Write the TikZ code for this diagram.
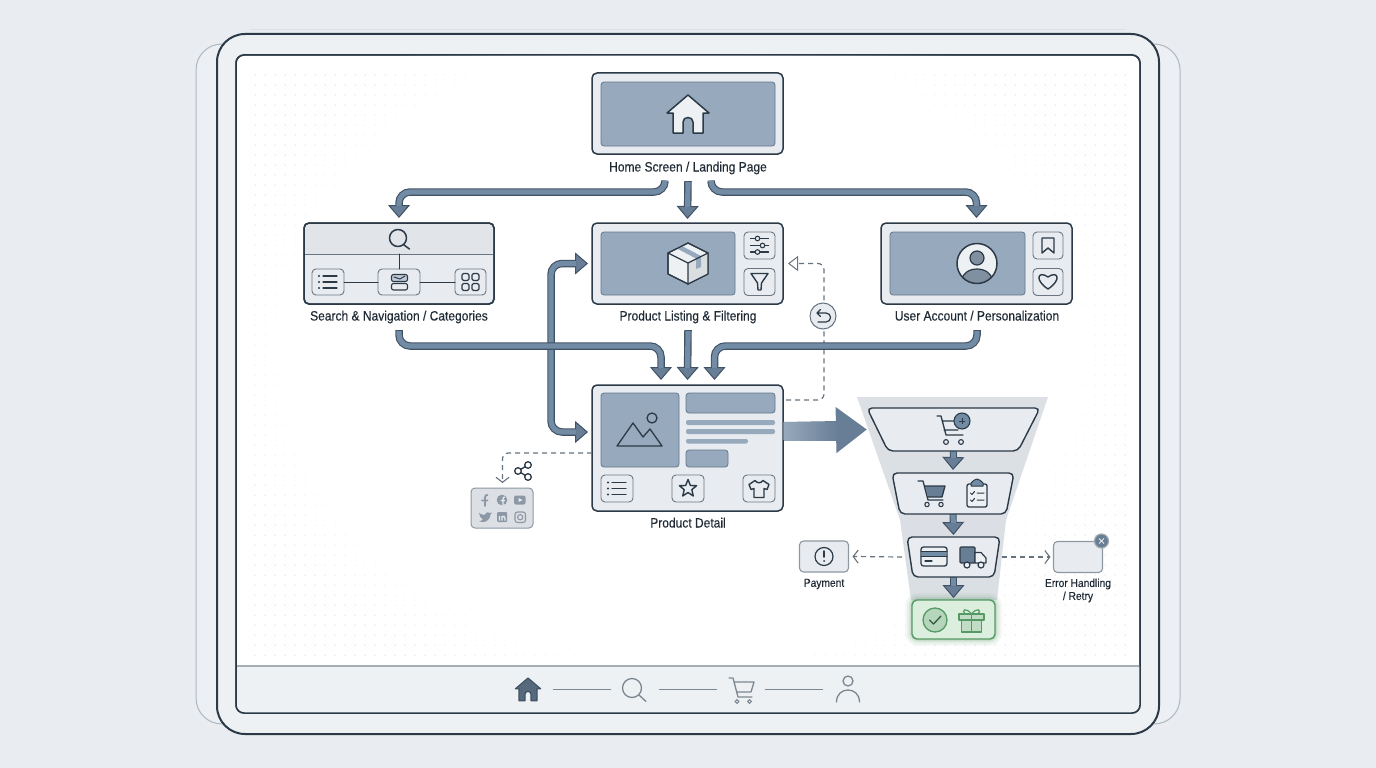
\documentclass[tikz,border=0pt]{standalone}
\usepackage{fontspec}
\setmainfont{Liberation Sans}[FakeStretch=0.89,FakeBold=0.25]
\usetikzlibrary{arrows.meta,shapes.geometric,fadings}
\definecolor{pagec}{HTML}{E9EDF1}
\definecolor{framec}{HTML}{EEF1F4}
\definecolor{edgec}{HTML}{2C3947}
\definecolor{panelc}{HTML}{E8ECF0}
\definecolor{innerc}{HTML}{97A9BC}
\definecolor{inneredge}{HTML}{64778B}
\definecolor{flowc}{HTML}{728CA6}
\definecolor{flowedge}{HTML}{415265}
\definecolor{headc}{HTML}{687E96}
\definecolor{btnedge}{HTML}{6B7682}
\definecolor{dotc}{HTML}{DEE2E6}
\definecolor{textc}{HTML}{1F2A35}
\definecolor{softc}{HTML}{8E98A2}
\definecolor{dashc}{HTML}{66727F}
\definecolor{funnelc}{HTML}{D6DBE1}
\definecolor{greenf}{HTML}{DCEEDD}
\definecolor{greene}{HTML}{559A64}
\definecolor{navc}{HTML}{7C8791}
\definecolor{socialc}{HTML}{8C98A5}
\tikzset{
  x=1pt,y=-1pt,
  fattip/.tip={Triangle[length=13pt,width=22pt,line width=1pt,fill=headc,color=flowedge]},
  flow/.style={draw=flowedge,line width=7.5pt,rounded corners=11pt,-fattip,
    postaction={draw=flowc,line width=5.2pt,-,shorten >=12pt,shorten <=.8pt}},
  flowboth/.style={draw=flowedge,line width=7.5pt,rounded corners=11pt,fattip-fattip,
    postaction={draw=flowc,line width=5.2pt,-,shorten >=12pt,shorten <=12pt}},
  panel/.style={draw=edgec,line width=1.5pt,fill=panelc,rounded corners=5pt,inner sep=0pt,outer sep=0pt},
  inset/.style={draw=inneredge,line width=.8pt,fill=innerc,rounded corners=3pt,inner sep=0pt,outer sep=0pt},
  btn/.style={draw=btnedge,line width=.9pt,fill=panelc,rounded corners=4pt,inner sep=0pt,outer sep=0pt},
  lab/.style={text=textc,font=\fontsize{13.5}{15}\selectfont,inner sep=2pt,text height=9.5pt,text depth=2.5pt},
  smalllab/.style={text=textc,font=\fontsize{11.5}{13}\selectfont,inner sep=0pt,align=center},
  ink/.style={draw=edgec,line width=1.3pt,line join=round,line cap=round},
  stepshape/.style={draw=edgec,line width=1.4pt,fill=panelc,rounded corners=5pt},
  stepbox/.style={inner sep=0pt,outer sep=0pt},
  dashline/.style={draw=dashc,line width=1.2pt,dash pattern=on 5pt off 4pt,rounded corners=6pt},
  openhead/.tip={Triangle[open,length=10pt,width=15pt,line width=1pt,fill=white,color=dashc]},
  barb/.tip={Straight Barb[length=5pt,width=13pt,line width=1.1pt,color=dashc]},
  houseglyph/.pic={\path[pic actions,line join=round] (0,-20) -- (21,-2) -- (15,-2) -- (15,18) -- (5,18) -- (5,7) .. controls (5,1) and (-5,1) .. (-5,7) -- (-5,18) -- (-15,18) -- (-15,-2) -- (-21,-2) -- cycle;},
  listglyph/.pic={
    \foreach \yy in {-6,0,6} {\fill[edgec] (-9,\yy) circle[radius=1.1]; \draw[ink] (-5,\yy) -- (9,\yy);}},
  gridglyph/.pic={
    \foreach \xx in {-8.5,1.5} {\foreach \yy in {-8.5,1.5} {\draw[ink,line width=1.1pt,rounded corners=1.5pt] (\xx,\yy) rectangle ++(7,7);}}},
}
\begin{document}
\begin{tikzpicture}
\useasboundingbox (0,0) rectangle (1376,768);
\fill[pagec] (0,0) rectangle (1376,768);
% frames
\draw[draw=pagec!95!black,line width=.8pt] (250,29.5) -- (1126,29.5);
\draw[draw=softc!70!white,line width=1pt,fill=framec!60!pagec,rounded corners=26pt] (196,44) rectangle (1180,724);
\node[draw=edgec,line width=2pt,fill=framec,rounded corners=28pt,minimum width=942,minimum height=700,inner sep=0pt,outer sep=0pt] (device) at (688,384) {};
\node[draw=edgec,line width=1.5pt,fill=white,rounded corners=8pt,minimum width=904,minimum height=658,inner sep=0pt,outer sep=0pt] (screen) at (688,384) {};
% dot grid
\begin{scope}
\clip (237,56) rectangle (1139,665);
\foreach \yy in {75,85,...,655} {\draw[dotc,line width=1.5pt,line cap=round,dash pattern=on 0pt off 10pt] (255,\yy) -- (1126,\yy);}
\fill[white,path fading=circle with fuzzy edge 20 percent] (680,350) ellipse[x radius=470,y radius=370];
\end{scope}
% bottom bar
\fill[framec] (236,666) -- (1140,666) [rounded corners=8pt] -- (1140,713) -- (236,713) [sharp corners] -- cycle;
\draw[draw=softc!80!white,line width=1.5pt] (236,666) -- (1140,666);
\draw[draw=edgec,line width=1.5pt,rounded corners=8pt] (screen.south west) rectangle (screen.north east);
% funnel backdrop
\shade[top color=funnelc!85!white,bottom color=funnelc!90!white] (857,397) -- (1048,397) -- (1006,520) -- (997,600) -- (911,600) -- (900,520) -- cycle;
% home
\node[panel,minimum width=191,minimum height=81] (home) at (687.5,113.5) {};
\node[inset,minimum width=174,minimum height=64] (homein) at (688,114) {};
\pic[draw=edgec,fill=framec,line width=1.5pt] at (688,115) {houseglyph};
\node[lab] (homelab) at (688,168) {Home Screen / Landing Page};
% search
\node[panel,minimum width=190,minimum height=81] (search) at (399,263.5) {};
\fill[panelc!97!black,rounded corners=5pt] (305,254) -- (305,224) -- (493,224) -- (493,254) [sharp corners] -- cycle;
\draw[draw=btnedge,line width=1pt] (304,254) -- (494,254);
\draw[draw=edgec,line width=1.5pt,rounded corners=5pt] (search.south west) rectangle (search.north east);
\draw[ink,line width=1.5pt] (398,238) circle[radius=8.5] (404,245) -- (409.5,249);
\node[btn,minimum width=32,minimum height=26] (sleft) at (328,282) {};
\node[btn,minimum width=42,minimum height=26] (smid) at (399,282) {};
\node[btn,minimum width=31,minimum height=26] (sright) at (470.5,282) {};
\draw[ink,line width=1pt] (sleft) -- (smid);
\draw[ink,line width=1pt] (smid) -- (sright);
\draw[ink,line width=1pt] (399,254) -- (smid);
\pic at (328,282) {listglyph};
\pic at (470.5,282) {gridglyph};
\draw[ink,line width=1.1pt,rounded corners=2pt,fill=innerc!60!white] (391.5,274.5) rectangle (407.5,281.5);
\draw[ink,line width=1.1pt,rounded corners=2pt] (391.5,283.5) rectangle (407.5,290);
\draw[ink,line width=1pt] (394,277) -- (400,279) -- (405,276);
\node[lab] (searchlab) at (399,317) {Search \& Navigation / Categories};
% listing
\node[panel,minimum width=191,minimum height=81] (listing) at (687.5,263.5) {};
\node[inset,minimum width=134,minimum height=63] (listin) at (668,263.5) {};
\node[btn,minimum width=31,minimum height=27] (lbtna) at (759.5,245.5) {};
\node[btn,minimum width=31,minimum height=27] (lbtnb) at (759.5,282) {};
\draw[ink,fill=framec,line width=1.2pt] (688,243) -- (708,253) -- (708,274) -- (688,284) -- (668,274) -- (668,253) -- cycle;
\fill[framec!92!black] (688,263) -- (708,253) -- (708,274) -- (688,284) -- cycle;
\fill[innerc] (676,248) -- (681,245.5) -- (701,256) -- (701,267) -- (696,269) -- (696,258.5) -- cycle;
\draw[ink,line width=1.2pt] (668,253) -- (688,263) -- (708,253) (688,263) -- (688,284);
\draw[ink,line width=1.2pt] (688,243) -- (708,253) -- (708,274) -- (688,284) -- (668,274) -- (668,253) -- cycle;
\foreach \yy/\cx in {-7/-2,0/3,6.5/-2} {\draw[ink,line width=1.1pt] (750.5,245.5+\yy) -- (768.5,245.5+\yy); \draw[ink,fill=panelc,line width=1.1pt] (759.5+\cx,245.5+\yy) circle[radius=2.3];}
\draw[ink,line width=1.4pt] (751,273.5) -- (768,273.5) -- (761.5,283) -- (761,290) -- (758,290) -- (757.5,283) -- cycle;
\node[lab] (listlab) at (688,317) {Product Listing \& Filtering};
% user
\node[panel,minimum width=191,minimum height=81] (user) at (976.5,263.5) {};
\node[inset,minimum width=135,minimum height=63] (userin) at (957.5,263.5) {};
\node[btn,minimum width=30,minimum height=27] (ubtna) at (1048,245.5) {};
\node[btn,minimum width=30,minimum height=27] (ubtnb) at (1048,282) {};
\fill[framec] (977,263.5) circle[radius=20];
\begin{scope}
\clip (977,263.5) circle[radius=20];
\draw[ink,fill=innerc!85!black,line width=1.2pt] (977,280) ellipse[x radius=15,y radius=11];
\end{scope}
\draw[ink,fill=innerc!85!black,line width=1.2pt] (977,258) circle[radius=7];
\draw[ink,line width=1.5pt] (977,263.5) circle[radius=20];
\draw[ink,line width=1.4pt] (1042,238) -- (1054,238) -- (1054,253) -- (1048,248) -- (1042,253) -- cycle;
\draw[ink,line width=1.4pt] (1048,289) .. controls (1034,280) and (1038,270) .. (1048,277) .. controls (1058,270) and (1062,280) .. (1048,289) -- cycle;
\node[lab] (userlab) at (977,317) {User Account / Personalization};
% detail
\node[panel,minimum width=191,minimum height=126] (detail) at (687.5,448) {};
\node[inset,minimum width=78,minimum height=74] (dimg) at (640,430) {};
\node[inset,minimum width=89,minimum height=20] (dbar) at (730.5,403) {};
\node[inset,minimum width=42,minimum height=17] (dchip) at (707,458.5) {};
\fill[innerc,rounded corners=2pt] (686,420) rectangle (775,425);
\fill[innerc,rounded corners=2pt] (686,429) rectangle (775,434);
\fill[innerc,rounded corners=2pt] (686,439) rectangle (748,443.5);
\draw[ink,line width=1.3pt] (617,446) -- (633,423) -- (643,437) -- (650,429) -- (662,446) -- cycle;
\draw[ink,line width=1.3pt] (652,418) circle[radius=5];
\node[btn,minimum width=32,minimum height=27] (dbtna) at (617,488.5) {};
\node[btn,minimum width=32,minimum height=27] (dbtnb) at (688,488.5) {};
\node[btn,minimum width=32,minimum height=27] (dbtnc) at (759,488.5) {};
\pic at (617,488.5) {listglyph};
\draw[ink,line width=1.4pt,shift={(688,488.5)}] (0,-9) -- (2.4,-3) -- (8.6,-2.8) -- (3.8,1.2) -- (5.3,7.5) -- (0,4) -- (-5.3,7.5) -- (-3.8,1.2) -- (-8.6,-2.8) -- (-2.4,-3) -- cycle;
\draw[ink,line width=1.4pt,shift={(759,488.5)}] (-4,-8) -- (-10,-4) -- (-8,1) -- (-5,0) -- (-5,9) -- (5,9) -- (5,0) -- (8,1) -- (10,-4) -- (4,-8) .. controls (2,-5) and (-2,-5) .. (-4,-8) -- cycle;
\node[lab] (detaillab) at (688,524) {Product Detail};
% social
\node[draw=socialc,line width=1pt,fill=panelc!95!black,rounded corners=4pt,minimum width=62,minimum height=40,inner sep=0pt,outer sep=0pt] (social) at (502,508) {};
\draw[socialc,line width=1.8pt,line cap=round] (485,506) -- (485,497.5) .. controls (485,495.5) and (486,495) .. (487.5,495) (482,500.5) -- (487.5,500.5);
\fill[socialc] (502,500) circle[radius=5.3];
\draw[panelc,line width=1.2pt] (503,505) -- (503,499) .. controls (503,497.5) and (503.5,497) .. (505,497) (500.5,500.5) -- (505,500.5);
\fill[socialc,rounded corners=2pt] (514,495.5) rectangle (525.5,504.5);
\fill[panelc] (518.5,498) -- (522.5,500) -- (518.5,502) -- cycle;
\fill[socialc] (479,513) .. controls (482,515) and (484,515) .. (485,514.5) .. controls (486,512) and (488,511.5) .. (490,513) -- (492,512.5) -- (490.5,514.5) .. controls (490,519) and (487,522) .. (483,522) .. controls (481.5,522) and (480,521.5) .. (479,521) .. controls (481,521) and (482,520.5) .. (483,519.5) .. controls (481,518.5) and (479,516) .. (479,513) -- cycle;
\fill[socialc,rounded corners=1pt] (497,512) rectangle (507,522);
\draw[panelc,line width=1.1pt] (499.5,516) -- (499.5,520.5) (502,520.5) -- (502,516) (502,517.5) .. controls (503,515.5) and (505,516) .. (505,518) -- (505,520.5);
\draw[socialc,line width=1.1pt,rounded corners=2.5pt] (515,512) rectangle (525.5,522.5);
\draw[socialc,line width=1.1pt] (520.2,517.2) circle[radius=2.6];
\coordinate (sharein) at (502.5,483);
\draw[dashline,-barb] ([yshift=-5pt]detail.west) -| (sharein);
\foreach \cc in {(518,471),(528,465),(528,477)} {\draw[ink,line width=1.3pt] \cc circle[radius=3.3];}
\draw[ink,line width=1.3pt] (521,469.3) -- (525,466.7) (521,472.7) -- (525,475.3);
% funnel steps
\draw[stepshape] (867,408) -- (1040,408) -- (1018,451) -- (888,451) -- cycle;
\node[stepbox,minimum width=173,minimum height=43] (stepa) at (953.5,429.5) {};
\draw[stepshape] (892,473) -- (1014,473) -- (1006,514) -- (900,514) -- cycle;
\node[stepbox,minimum width=122,minimum height=41] (stepb) at (953,493.5) {};
\draw[stepshape] (907,537) -- (1000,537) -- (994,577) -- (913,577) -- cycle;
\node[stepbox,minimum width=93,minimum height=40] (stepc) at (953.5,557) {};
\foreach \w/\o in {14/.06,10/.08,6/.12,3/.16} {\draw[greene,line width=\w pt,opacity=\o,rounded corners=6pt] (912,600) rectangle (995,639);}
\node[draw=greene,line width=1.4pt,fill=greenf,rounded corners=5pt,minimum width=83,minimum height=39,inner sep=0pt,outer sep=0pt] (stepd) at (953.5,619.5) {};
% funnel icons
\draw[ink,line width=1.3pt] (937,416) -- (941,416) -- (946,435) -- (963,435) (942,421) -- (955,421) (944,430) -- (958,430);
\draw[ink,line width=1.1pt] (946,442) circle[radius=2.4] (961,442) circle[radius=2.4];
\draw[ink,line width=1.1pt,fill=flowc] (962,421) circle[radius=8];
\draw[draw=edgec,line width=1pt] (962,418) -- (962,424) (959,421) -- (965,421);
\fill[flowc!90!black] (925,486) -- (945,486) -- (942,497) -- (928,497) -- cycle;
\draw[ink,line width=1.3pt] (918,481) -- (923,481) -- (928,500) -- (943,500) (925,486) -- (945,486) -- (942,497) -- (928,497);
\draw[ink,line width=1.1pt] (927,504.5) circle[radius=2.2] (941,504.5) circle[radius=2.2];
\draw[ink,line width=1.3pt,rounded corners=2pt,fill=framec] (967,484) rectangle (987,507);
\fill[flowc] (971,486) -- (971,483) .. controls (973,481) and (975,479) .. (977,479) .. controls (979,479) and (981,481) .. (983,483) -- (983,486) -- cycle;
\draw[ink,line width=1pt] (971,486) -- (971,483) .. controls (973,481) and (975,479) .. (977,479) .. controls (979,479) and (981,481) .. (983,483) -- (983,486) -- cycle;
\draw[ink,line width=1pt] (970.5,493) -- (972,494.5) -- (974.5,491.5) (977,493) -- (984,493) (970.5,500) -- (972,501.5) -- (974.5,498.5) (977,500) -- (984,500);
\draw[ink,line width=1.3pt,rounded corners=2.5pt,fill=framec] (921,547) rectangle (947,566);
\fill[flowc] (921.8,551) rectangle (946.2,556);
\draw[ink,line width=1pt] (921,551) -- (947,551) (921,556) -- (947,556);
\draw[ink,line width=1.1pt] (925,561) -- (932,561);
\draw[ink,line width=1.2pt,fill=flowc!90!black,rounded corners=1pt] (960,547) rectangle (975,563);
\draw[ink,line width=1.2pt,fill=framec] (975,552.5) -- (981,552.5) -- (986,558) -- (986,563) -- (975,563) -- cycle;
\draw[ink,line width=1.2pt,fill=framec] (967,565) circle[radius=3] (981,565) circle[radius=3];
\draw[draw=greene,line width=1.3pt,fill=greene!28!greenf] (935,620) circle[radius=12];
\draw[draw=greene!60!black,line width=1.3pt,line cap=round,line join=round] (929.5,620) -- (933.5,624) -- (941,616);
\draw[draw=greene,line width=1.3pt,fill=greene!20!greenf,line join=round] (959,614) rectangle (984,620) (961.5,620) rectangle (981.5,632) (971.5,614) -- (971.5,632);
\draw[draw=greene,line width=1.2pt] (971.5,614) .. controls (966,607) and (961,610) .. (965,614) (971.5,614) .. controls (977,607) and (982,610) .. (978,614);
% side boxes
\node[draw=softc,line width=1.1pt,fill=panelc,rounded corners=4pt,minimum width=49,minimum height=31,inner sep=0pt,outer sep=0pt] (payment) at (824,556.5) {};
\draw[ink,line width=1.2pt] (824,556.5) circle[radius=9];
\draw[ink,line width=1.5pt] (824,551) -- (824,557);
\fill[edgec] (824,561) circle[radius=1];
\node[smalllab] (paylab) at (824,584) {Payment};
\node[draw=softc,line width=1.1pt,fill=panelc,rounded corners=4pt,minimum width=49,minimum height=31,inner sep=0pt,outer sep=0pt] (errbox) at (1078,557) {};
\node[circle,draw=softc!85!white,line width=1.2pt,fill=flowc!90!black,minimum size=14,inner sep=0pt,outer sep=0pt] (errbadge) at (1101.5,541) {};
\draw[draw=panelc,line width=1pt] (1099,538.5) -- (1104,543.5) (1104,538.5) -- (1099,543.5);
\node[smalllab] (errlab) at (1078,590.5) {Error Handling\\/ Retry};
\draw[dashline,-barb] ([xshift=-5pt]stepc.west) -- ([xshift=4pt]payment.east);
\draw[dashline,-barb] ([xshift=2pt]stepc.east) -- ([xshift=-3pt]errbox.west);
% return path
\coordinate (backturn) at (824,400);
\draw[dashline,-openhead] ([yshift=48pt,xshift=3pt]detail.east) -- (backturn) |- ([xshift=5pt]listing.east);
\node[circle,draw=dashc,line width=1pt,fill=panelc,minimum size=26,inner sep=0pt,outer sep=0pt] (undo) at (823,316) {};
\draw[ink,line width=1.2pt] (817,313) -- (826,313) .. controls (832,313) and (832,322) .. (826,322) -- (818,322) (820.5,309.5) -- (817,313) -- (820.5,316.5);
% fat connectors
\coordinate (busv) at (551,350);
\draw[flowboth] ([xshift=-4pt]listing.west) -| (busv) |- ([yshift=16pt,xshift=-4pt]detail.west);
\draw[flow] ([xshift=-23pt,yshift=-5pt]homelab.south) |- (399,192) -- ([yshift=5pt]search.north);
\draw[flow] ([yshift=-5pt]homelab.south) -- ([yshift=4pt]listing.north);
\draw[flow] ([xshift=23pt,yshift=-5pt]homelab.south) |- (976.5,192) -- ([yshift=5pt]user.north);
\draw[flow] ([yshift=-5pt]searchlab.south) |- (661,346) -- ([xshift=-26.5pt,yshift=5pt]detail.north);
\draw[flow] ([yshift=-5pt]listlab.south) -- ([yshift=5pt]detail.north);
\draw[flow] ([yshift=-5pt]userlab.south) |- (714.5,346) -- ([xshift=27pt,yshift=5pt]detail.north);
\draw[flow,line width=7pt] (stepa.south) -- ([yshift=3pt]stepb.north);
\draw[flow,line width=7pt] (stepb.south) -- ([yshift=2pt]stepc.north);
\draw[flow,line width=7pt] (stepc.south) -- ([yshift=2pt]stepd.north);
% main arrow
\draw[draw=headc,line width=18pt,-{Triangle[length=31pt,width=44pt,fill=headc,color=headc]}] ([yshift=17pt]detail.east) -- (stepa.west);
\shade[left color=innerc,right color=headc] (784,422) rectangle (838,440);
% nav
\pic[draw=flowedge,fill=flowc!75!black,line width=1.2pt,scale=.6] at (528,690) {houseglyph};
\draw[navc,line width=1.2pt] (553,689.5) -- (611,689.5) (659,689.5) -- (717,689.5) (765,689.5) -- (823,689.5);
\draw[navc,line width=1.3pt,line cap=round] (632,688) circle[radius=9.5] (639,695) -- (646,701.5);
\draw[navc,line width=1.3pt,line join=round,line cap=round] (729,678) -- (733,678) -- (738,697) -- (752,697) (734,682) -- (754,682) -- (751,692) -- (737,692);
\draw[navc,line width=1.1pt] (737,701.5) circle[radius=1.8] (749.5,701.5) circle[radius=1.8];
\draw[navc,line width=1.3pt] (848,681) circle[radius=5];
\draw[navc,line width=1.3pt,line cap=round] (836.5,702) .. controls (836.5,686) and (859.5,686) .. (859.5,702);
\end{tikzpicture}
\end{document}
